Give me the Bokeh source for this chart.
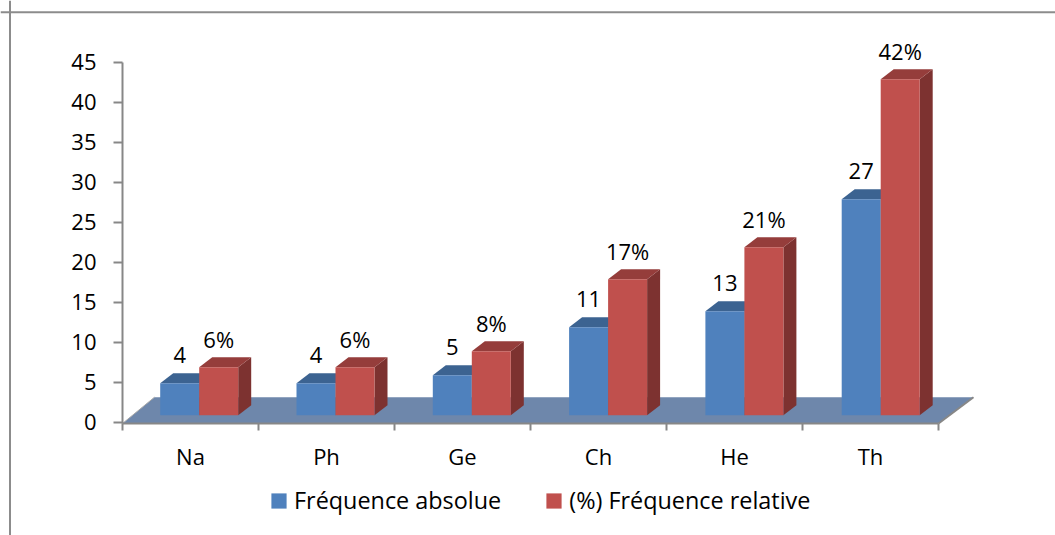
from bokeh.plotting import figure
from bokeh.models import (Range1d, LinearAxis, FixedTicker, Legend, LegendItem, Span)
from bokeh.core.properties import value
from bokeh.embed import file_html
from bokeh.resources import INLINE

categories = ["Na", "Ph", "Ge", "Ch", "He", "Th"]
frequence_absolue = [4, 4, 5, 11, 13, 27]
frequence_relative = [6, 6, 8, 17, 21, 42]
labels_absolue = ["4", "4", "5", "11", "13", "27"]
labels_relative = ["6%", "6%", "8%", "17%", "21%", "42%"]
y_ticks = [0, 5, 10, 15, 20, 25, 30, 35, 40, 45]

FONT = "Open Sans"
FS = "22px"
FS_LEGEND = "23.4px"
GREY = "#878787"
PX_X = 136.0
PX_Y = 8.0
DX = 13 / PX_X
DY = 10 / PX_Y
BASE = 6.8 / PX_Y
STEP = 136.3 / PX_X
W = 39.0 / PX_X
OFF = 37.7 / PX_X

CW, CH = 1055, 535
X0_PX, Y0_PX = 122, 421.5  # picture pixels of x=0 and y=0
FLOOR_FRONT = -1.5 / PX_Y


def px_x(v):
    return (v - X0_PX) / PX_X


def px_y(v):
    return (Y0_PX - v) / PX_Y


p = figure(width=CW, height=CH, output_backend="svg", toolbar_location=None,
           x_axis_type=None, y_axis_type=None,
           x_range=Range1d(px_x(0), px_x(CW)), y_range=Range1d(px_y(CH), px_y(0)),
           min_border=0,
           background_fill_color="white", border_fill_color="white", outline_line_color=None)
p.grid.visible = False

# chart-area border (only its left and top edges fall in the window)
p.add_layout(Span(location=px_x(9.5), dimension="height", line_color="#8c8c8c", line_width=2))
p.add_layout(Span(location=px_y(11.8), dimension="width", line_color="#8c8c8c", line_width=2))

# floor
fx = [0, 6, px_x(973), px_x(154)]
fy = [FLOOR_FRONT, FLOOR_FRONT, px_y(396.7), px_y(396.7)]
p.patch(fx, fy, fill_color="#6E87AB", line_color=None)
p.line([6, px_x(973)], [FLOOR_FRONT, px_y(396.7)], line_color=GREY, line_width=2)
p.line([0, px_x(154)], [FLOOR_FRONT, px_y(396.7)], line_color="#a9a9a9", line_width=1)


def series(vals, shift, front, top, side):
    x0 = [OFF + STEP * i + shift for i in range(len(vals))]
    x1 = [a + W for a in x0]
    yt = [v + BASE for v in vals]
    side_src = dict(
        xs=[[b, b + DX, b + DX, b] for b in x1],
        ys=[[BASE, BASE + DY, t + DY, t] for t in yt])
    top_src = dict(
        xs=[[a, b, b + DX, a + DX] for a, b in zip(x0, x1)],
        ys=[[t, t, t + DY, t + DY] for t in yt])
    p.patches("xs", "ys", source=side_src, fill_color=side, line_color=None)
    p.patches("xs", "ys", source=top_src, fill_color=top, line_color=None)
    return p.quad(left=x0, right=x1, bottom=[BASE] * len(vals), top=yt,
                  fill_color=front, line_color=None), [(a + b) / 2 for a, b in zip(x0, x1)], yt


r_abs, cx_abs, top_abs = series(frequence_absolue, 0, "#4F81BD", "#3C6391", "#37597F")
r_rel, cx_rel, top_rel = series(frequence_relative, W, "#C0504D", "#953D3B", "#7D3230")

# value labels
for cx, yt, lab in ((cx_abs, top_abs, labels_absolue), (cx_rel, top_rel, labels_relative)):
    p.text(x=cx, y=yt, text=lab, y_offset=-28.5, text_align="center", text_baseline="middle",
           text_font=value(FONT), text_font_size=FS, text_color="black")

# axes
yax = LinearAxis(ticker=FixedTicker(ticks=y_ticks), bounds=(FLOOR_FRONT, 45), fixed_location=0)
yax.axis_line_color = GREY
yax.axis_line_width = 2
yax.major_tick_line_color = GREY
yax.major_tick_line_width = 2
yax.major_tick_out = 9
yax.major_tick_in = 0
yax.minor_tick_line_color = None
yax.major_label_standoff = 17
yax.major_label_text_font = FONT
yax.major_label_text_font_size = FS
yax.major_label_text_color = "black"
p.add_layout(yax, "left")

xax = LinearAxis(ticker=FixedTicker(ticks=[i + 0.5 for i in range(6)], minor_ticks=list(range(7))),
                 bounds=(0, 6), fixed_location=FLOOR_FRONT)
xax.major_label_overrides = {i + 0.5: c for i, c in enumerate(categories)}
xax.axis_line_color = GREY
xax.axis_line_width = 2
xax.major_tick_line_color = None
xax.major_tick_out = 0
xax.major_tick_in = 0
xax.minor_tick_line_color = GREY
xax.minor_tick_line_width = 2
xax.minor_tick_out = 7
xax.minor_tick_in = 0
xax.major_label_standoff = 10
xax.major_label_text_font = FONT
xax.major_label_text_font_size = FS
xax.major_label_text_color = "black"
p.add_layout(xax, "below")

legend = Legend(items=[LegendItem(label="Fréquence absolue", renderers=[r_abs]),
                       LegendItem(label="(%) Fréquence relative", renderers=[r_rel])],
                orientation="horizontal", location=(269, 19), padding=0, margin=0,
                spacing=43, glyph_width=19, glyph_height=19, label_standoff=6,
                label_text_font=FONT, label_text_font_size=FS_LEGEND, label_text_color="black",
                background_fill_alpha=0, border_line_color=None)
p.add_layout(legend, "center")

open("out.html", "w").write(file_html(p, INLINE))
